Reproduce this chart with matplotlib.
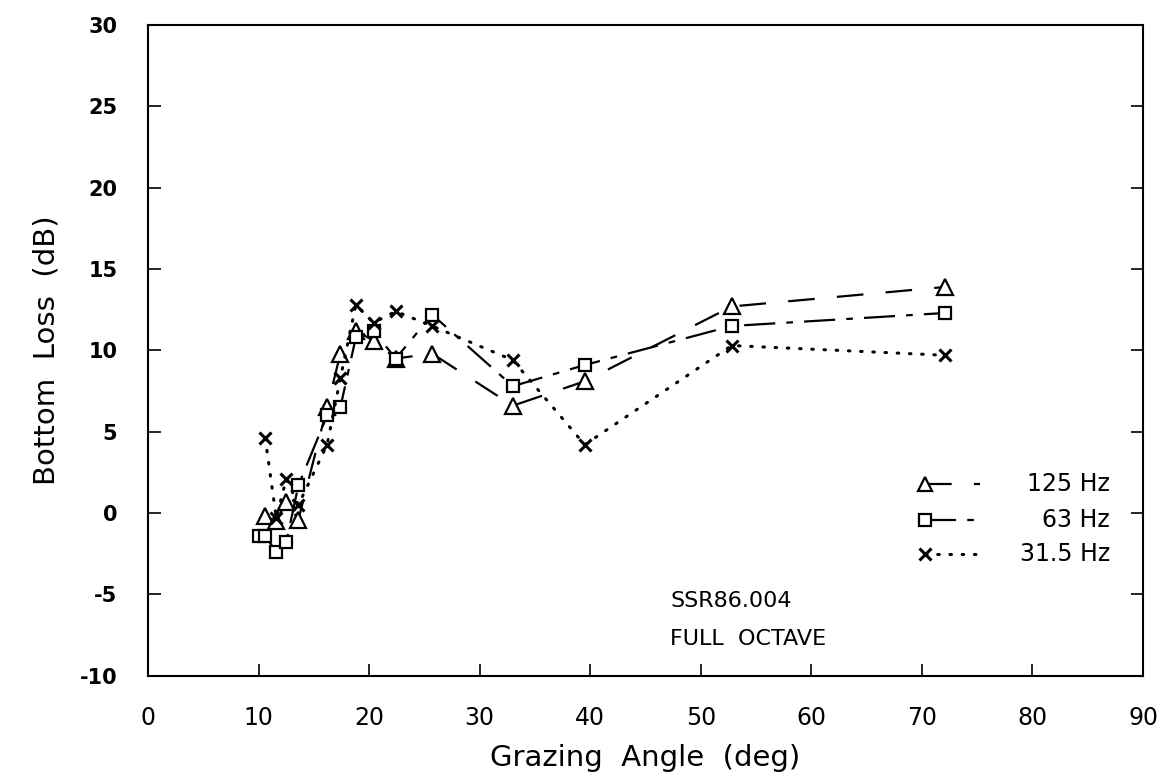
import matplotlib
matplotlib.use('Agg')
import matplotlib.pyplot as plt

# grazing angle (deg) and bottom loss (dB)
angle_125 = [10.6, 11.6, 12.5, 13.6, 16.2, 17.4, 18.8, 20.4, 22.4, 25.7, 33.0, 39.5, 52.8, 72.1]
loss_125 = [-0.2, -0.5, 0.7, -0.4, 6.5, 9.8, 11.2, 10.6, 9.5, 9.8, 6.6, 8.1, 12.7, 13.9]

angle_63 = [10.0, 10.6, 11.6, 12.5, 13.6, 16.2, 17.4, 18.8, 20.4, 22.4, 25.7, 33.0, 39.5, 52.8, 72.1]
loss_63 = [-1.4, -1.4, -2.4, -1.8, 1.7, 6.0, 6.5, 10.8, 11.2, 9.5, 12.2, 7.8, 9.1, 11.5, 12.3]

angle_31 = [10.6, 11.6, 12.5, 13.6, 16.2, 17.4, 18.8, 20.4, 22.4, 25.7, 33.0, 39.5, 52.8, 72.1]
loss_31 = [4.6, -0.3, 2.1, 0.5, 4.2, 8.3, 12.8, 11.7, 12.4, 11.5, 9.4, 4.2, 10.3, 9.7]

labels = ['125 Hz', '63 Hz', '31.5 Hz']
x_ticks = [0, 10, 20, 30, 40, 50, 60, 70, 80, 90]
y_ticks = [-10, -5, 0, 5, 10, 15, 20, 25, 30]

fig = plt.figure(figsize=(11.61, 7.83), dpi=100)
ax = fig.add_axes([0.1275, 0.137, 0.857, 0.831])

styles = [
    dict(dashes=(12, 10), lw=1.6, marker='^', ms=11, mfc='white', mew=1.6),
    dict(dashes=(14, 5, 3, 5), lw=1.6, marker='s', ms=9, mfc='white', mew=1.6),
    dict(dashes=(0.5, 3.5), lw=2.2, marker='x', ms=9, mew=2.2, dash_capstyle='round'),
]
series = [(angle_125, loss_125), (angle_63, loss_63), (angle_31, loss_31)]

for (xs, ys), st in zip(series, styles):
    ax.plot(xs, ys, color='black', mec='black', **st)

ax.set_xlim(0, 90)
ax.set_ylim(-10, 30)
ax.set_xticks(x_ticks)
ax.set_yticks(y_ticks)
ax.set_yticklabels([str(v) for v in y_ticks])
ax.tick_params(direction='in', length=9, width=1.2, right=True, top=False)
ax.tick_params(axis='x', pad=22, labelsize=17)
ax.tick_params(axis='y', pad=22, labelsize=15)
for lab in ax.get_yticklabels():
    lab.set_fontweight('bold')
for s in ax.spines.values():
    s.set_linewidth(1.5)

ax.set_xlabel('Grazing  Angle  (deg)', fontsize=21, labelpad=10)
ax.set_ylabel('Bottom  Loss  (dB)', fontsize=21, labelpad=14)

ax.text(0.525, 0.115, 'SSR86.004', transform=ax.transAxes, fontsize=16,
        va='center')
ax.text(0.525, 0.057, 'FULL  OCTAVE', transform=ax.transAxes, fontsize=16,
        va='center')

# legend drawn by hand: marker at the left end of the sample line
leg_rows = [0.294, 0.240, 0.187]
for lab, st, yr in zip(labels, styles, leg_rows):
    line_st = {k: v for k, v in st.items() if k not in ('marker', 'ms', 'mfc', 'mew')}
    ax.plot([0.781, 0.836], [yr, yr], color='black', transform=ax.transAxes, **line_st)
    ax.plot([0.781], [yr], color='black', transform=ax.transAxes, ls='none',
            marker=st['marker'], ms=st['ms'] * 0.9, mfc=st.get('mfc', 'black'),
            mec='black', mew=st['mew'])
    ax.text(0.967, yr, lab, transform=ax.transAxes, ha='right', va='center',
            fontsize=17)

fig.savefig('out.png', dpi=100)
